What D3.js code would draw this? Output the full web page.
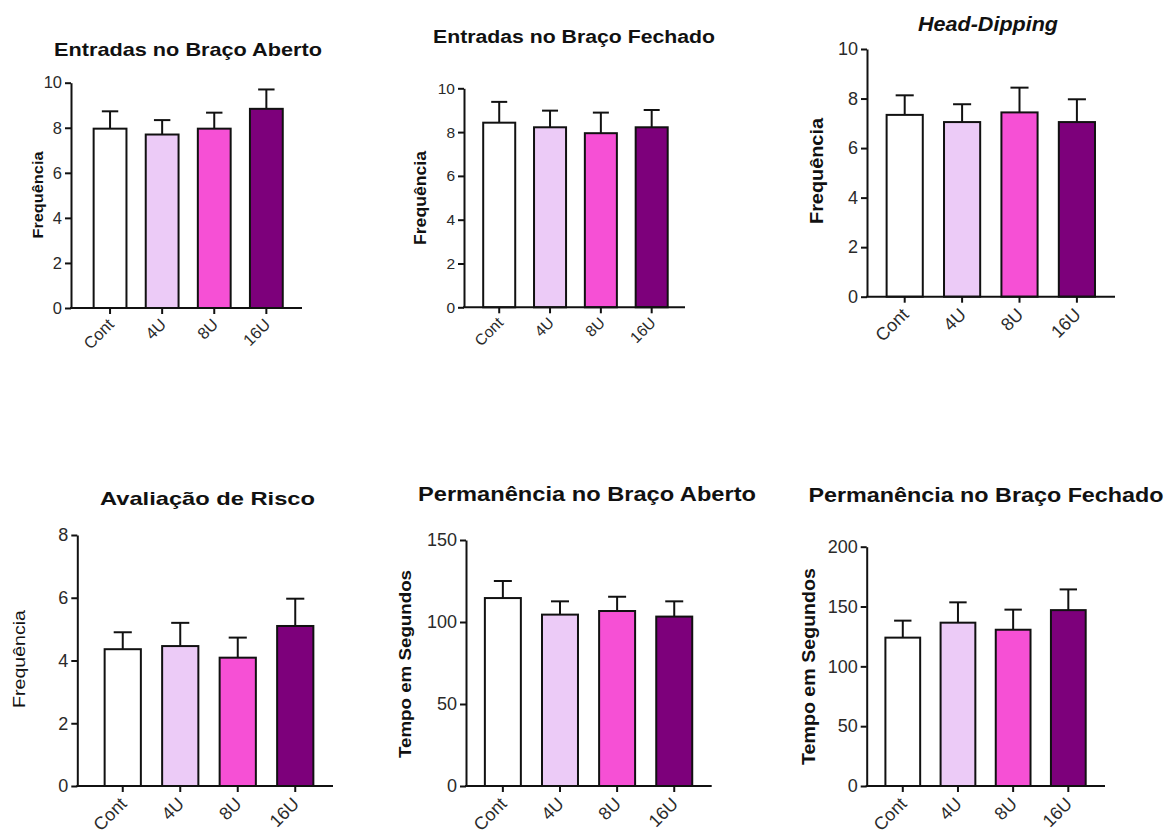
<!DOCTYPE html>
<html>
<head>
<meta charset="utf-8">
<script src="https://cdn.jsdelivr.net/npm/d3@7"></script>
<style>
  body { margin: 0; background: #fff; }
  svg { font-family: "Liberation Sans", Arial, sans-serif; }
</style>
</head>
<body>
<div id="d3-container"></div>
<script>
// groups and values (mean + SEM)
var categories = ["Cont", "4U", "8U", "16U"];

var entradasAbertoMean = [7.96, 7.70, 7.96, 8.84];
var entradasAbertoErr = [0.77, 0.64, 0.71, 0.86];

var entradasFechadoMean = [8.43, 8.22, 7.95, 8.22];
var entradasFechadoErr = [0.95, 0.76, 0.94, 0.79];

var headDippingMean = [7.34, 7.05, 7.44, 7.05];
var headDippingErr = [0.79, 0.72, 1.00, 0.92];

var avaliacaoRiscoMean = [4.36, 4.46, 4.09, 5.10];
var avaliacaoRiscoErr = [0.54, 0.74, 0.64, 0.87];

var permAbertoMean = [114.6, 104.5, 106.7, 103.3];
var permAbertoErr = [10.4, 8.1, 8.7, 9.3];

var permFechadoMean = [124, 136.5, 130.6, 147];
var permFechadoErr = [14.2, 17.0, 16.8, 17.3];

var freqTicks10 = [0, 2, 4, 6, 8, 10];
var freqTicks8 = [0, 2, 4, 6, 8];
var tempoTicks150 = [0, 50, 100, 150];
var tempoTicks200 = [0, 50, 100, 150, 200];

var titles = ["Entradas no Braço Aberto", "Entradas no Braço Fechado", "Head-Dipping",
  "Avaliação de Risco", "Permanência no Braço Aberto", "Permanência no Braço Fechado"];
var yLabels = ["Frequência", "Frequência", "Frequência", "Frequência", "Tempo em Segundos", "Tempo em Segundos"];

var barColors = ["#ffffff", "#eccbf7", "#f650d5", "#7d007b"];

const width = 1174;
const height = 835;

const svg = d3.select('#d3-container')
  .append('svg')
  .attr('width', width)
  .attr('height', height);

// layout of each small chart (pixels)
var panels = [
  { mean: entradasAbertoMean, err: entradasAbertoErr, ticks: freqTicks10, max: 10,
    axisX: 71, axisEnd: 302, y0: 308, yTop: 82.7, band: [84, 292.4], tickFont: 16.5,
    title: { x: 188, y: 56, size: 19, len: 268 },
    ylab: { x: 43, y: 195, size: 15.5, len: 87, weight: "bold" } },
  { mean: entradasFechadoMean, err: entradasFechadoErr, ticks: freqTicks10, max: 10,
    axisX: 464, axisEnd: 685, y0: 307.3, yTop: 88.3, band: [473.8, 677.1], tickFont: 15.5,
    title: { x: 574, y: 42.7, size: 17.5, len: 282 },
    ylab: { x: 426, y: 198, size: 16, len: 94, weight: "bold" } },
  { mean: headDippingMean, err: headDippingErr, ticks: freqTicks10, max: 10,
    axisX: 867, axisEnd: 1115, y0: 296.7, yTop: 49, band: [876, 1105.6], tickFont: 18,
    title: { x: 988, y: 30.7, size: 19.5, len: 140, italic: true },
    ylab: { x: 823, y: 171, size: 19, len: 106, weight: "bold" } },
  { mean: avaliacaoRiscoMean, err: avaliacaoRiscoErr, ticks: freqTicks8, max: 8,
    axisX: 77.3, axisEnd: 333, y0: 786, yTop: 535, band: [94, 324], tickFont: 18,
    title: { x: 207.5, y: 505, size: 18.5, len: 215 },
    ylab: { x: 25, y: 659, size: 17, len: 98, weight: "normal" } },
  { mean: permAbertoMean, err: permAbertoErr, ticks: tempoTicks150, max: 150,
    axisX: 466, axisEnd: 711.7, y0: 786, yTop: 540, band: [474.3, 702.8], tickFont: 18,
    title: { x: 587, y: 500.7, size: 19.5, len: 338 },
    ylab: { x: 411, y: 664, size: 17, len: 188, weight: "bold" } },
  { mean: permFechadoMean, err: permFechadoErr, ticks: tempoTicks200, max: 200,
    axisX: 866.7, axisEnd: 1105, y0: 786, yTop: 546.7, band: [875.2, 1095.9], tickFont: 18,
    title: { x: 986, y: 501.7, size: 20, len: 355 },
    ylab: { x: 815, y: 666.5, size: 18, len: 197, weight: "bold" } }
];

function drawPanel(p, i) {
  var g = svg.append("g");

  const y = d3.scaleLinear()
    .domain([0, p.max])
    .range([p.y0, p.yTop]);

  const x = d3.scaleBand()
    .domain(categories)
    .range(p.band)
    .paddingInner(0.37)
    .paddingOuter(0.185);

  var rows = categories.map((c, k) => ({ name: c, mean: p.mean[k], err: p.err[k], color: barColors[k] }));

  // error bars (upper only)
  var eb = g.append("g").attr("stroke", "#111").attr("stroke-width", 2);
  eb.selectAll("line.v")
    .data(rows)
    .join("line")
    .attr("class", "v")
    .attr("x1", d => x(d.name) + x.bandwidth() / 2)
    .attr("x2", d => x(d.name) + x.bandwidth() / 2)
    .attr("y1", d => y(d.mean))
    .attr("y2", d => y(d.mean + d.err));
  eb.selectAll("line.cap")
    .data(rows)
    .join("line")
    .attr("class", "cap")
    .attr("x1", d => x(d.name) + x.bandwidth() * 0.25)
    .attr("x2", d => x(d.name) + x.bandwidth() * 0.75)
    .attr("y1", d => y(d.mean + d.err))
    .attr("y2", d => y(d.mean + d.err));

  g.append("g")
    .selectAll("rect")
    .data(rows)
    .join("rect")
    .attr("x", d => x(d.name))
    .attr("y", d => y(d.mean))
    .attr("width", x.bandwidth())
    .attr("height", d => y(0) - y(d.mean))
    .attr("fill", d => d.color)
    .attr("stroke", "#111")
    .attr("stroke-width", 2);

  // y axis
  var ya = g.append("g")
    .attr("transform", `translate(${p.axisX},0)`)
    .call(d3.axisLeft(y).tickValues(p.ticks).tickSize(6).tickSizeOuter(0).tickPadding(3));
  ya.select(".domain").attr("stroke", "#111").attr("stroke-width", 2);
  ya.selectAll(".tick line").attr("stroke", "#111").attr("stroke-width", 2);
  ya.selectAll(".tick text").attr("font-size", p.tickFont).attr("fill", "#2a2a2a")
    .attr("font-family", "'Liberation Sans', Arial, sans-serif");

  // x axis
  g.append("line")
    .attr("x1", p.axisX - 1).attr("x2", p.axisEnd)
    .attr("y1", p.y0).attr("y2", p.y0)
    .attr("stroke", "#111").attr("stroke-width", 2);
  var xa = g.append("g")
    .attr("transform", `translate(0,${p.y0})`)
    .call(d3.axisBottom(x).tickSize(6).tickSizeOuter(0));
  xa.select(".domain").remove();
  xa.selectAll(".tick line").attr("stroke", "#111").attr("stroke-width", 2);
  xa.selectAll(".tick text")
    .attr("font-size", p.tickFont)
    .attr("font-family", "'Liberation Sans', Arial, sans-serif")
    .attr("fill", "#2a2a2a")
    .attr("x", 0).attr("y", 0).attr("dy", 0)
    .attr("text-anchor", "end")
    .attr("transform", `translate(5,${p.tickFont + 1}) rotate(-45)`);

  // title
  g.append("text")
    .attr("x", p.title.x)
    .attr("y", p.title.y)
    .attr("text-anchor", "middle")
    .attr("font-size", p.title.size)
    .attr("font-weight", "bold")
    .attr("font-style", p.title.italic ? "italic" : "normal")
    .attr("textLength", p.title.len)
    .attr("lengthAdjust", "spacingAndGlyphs")
    .attr("fill", "#111")
    .text(titles[i]);

  // y label
  g.append("text")
    .attr("transform", `translate(${p.ylab.x},${p.ylab.y}) rotate(-90)`)
    .attr("text-anchor", "middle")
    .attr("font-size", p.ylab.size)
    .attr("font-weight", p.ylab.weight)
    .attr("textLength", p.ylab.len)
    .attr("lengthAdjust", "spacingAndGlyphs")
    .attr("fill", "#111")
    .text(yLabels[i]);
}

panels.forEach(drawPanel);
</script>
</body>
</html>
